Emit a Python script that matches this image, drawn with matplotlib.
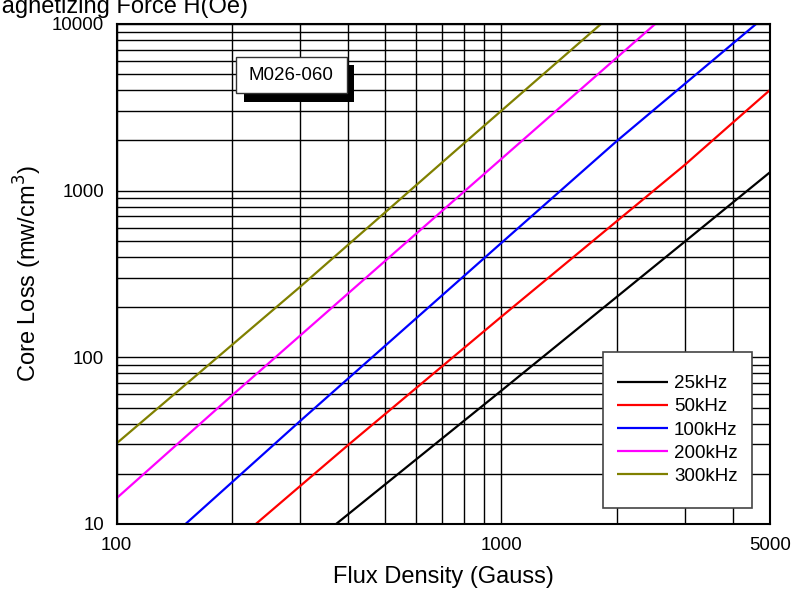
import matplotlib
matplotlib.use("Agg")
import matplotlib.pyplot as plt
from matplotlib.ticker import FixedLocator, NullFormatter, LogLocator
from matplotlib.patches import Rectangle

plt.rcParams['font.family'] = ['Liberation Sans', 'DejaVu Sans']

# Data (Flux density in Gauss, core loss in mW/cm^3)
b_25k = [372, 1000, 3000, 5000]
p_25k = [10, 63, 494, 1290]
b_50k = [230, 300, 400, 1000, 3000, 4000, 5000]
p_50k = [10, 16.9, 29.8, 175, 1426, 2558, 4018]
b_100k = [151, 200, 300, 1000, 2000, 4600]
p_100k = [10, 17.9, 41.5, 485, 1990, 10000]
b_200k = [100, 200, 800, 2514]
p_200k = [14.3, 59.4, 986, 10000]
b_300k = [100, 300, 800, 1817]
p_300k = [30.5, 265, 1923, 10000]

series = [
    ("25kHz", b_25k, p_25k, "#000000"),
    ("50kHz", b_50k, p_50k, "#ff0000"),
    ("100kHz", b_100k, p_100k, "#0000ff"),
    ("200kHz", b_200k, p_200k, "#ff00ff"),
    ("300kHz", b_300k, p_300k, "#808000"),
]

x_ticks = [100, 1000, 5000]
x_ticklabels = ["100", "1000", "5000"]
y_ticks = [10, 100, 1000, 10000]
y_ticklabels = ["10", "100", "1000", "10000"]

W, H = 803, 597
fig = plt.figure(figsize=(W / 100, H / 100), dpi=100)
L, R, T, B = 116.7, 770, 24, 524
ax = fig.add_axes([L / W, 1 - B / H, (R - L) / W, (B - T) / H])
ax.set_xscale('log')
ax.set_yscale('log')
ax.set_xlim(100, 5000)
ax.set_ylim(10, 10000)

handles = []
for name, bx, py, col in series:
    h, = ax.plot(bx, py, color=col, lw=1.6, label=name, zorder=3, solid_capstyle='butt')
    handles.append(h)

ax.xaxis.set_major_locator(FixedLocator(x_ticks))
ax.set_xticklabels(x_ticklabels)
ax.xaxis.set_minor_locator(LogLocator(base=10, subs=range(2, 10), numticks=20))
ax.xaxis.set_minor_formatter(NullFormatter())
ax.yaxis.set_major_locator(FixedLocator(y_ticks))
ax.set_yticklabels(y_ticklabels)
ax.yaxis.set_minor_locator(LogLocator(base=10, subs=range(2, 10), numticks=20))
ax.yaxis.set_minor_formatter(NullFormatter())

ax.grid(True, which='both', color='black', lw=1.0, zorder=1)
ax.set_axisbelow(True)
ax.tick_params(which='both', length=0, labelsize=13.4, pad=9)
for s in ax.spines.values():
    s.set_linewidth(1.5)
    s.set_zorder(5)

ax.set_xlabel("Flux Density (Gauss)", fontsize=17)
ax.xaxis.set_label_coords(0.5, (B - 566) / (B - T))
ax.set_ylabel("Core Loss (mw/cm$^3$)", fontsize=17)
ax.yaxis.set_label_coords((44 - L) / (R - L), 0.5)

fig.text(-18 / W, 1 - 12.7 / H, "Magnetizing Force H(Oe)", fontsize=17,
         ha='left', va='baseline')

# Material label box with shadow
bx0, bx1 = (236 - L) / (R - L), (346.7 - L) / (R - L)
by0, by1 = (B - 93.3) / (B - T), (B - 56.7) / (B - T)
dx, dy = 7.5 / (R - L), 8.4 / (B - T)
ax.add_patch(Rectangle((bx0 + dx, by0 - dy), bx1 - bx0, by1 - by0,
                       transform=ax.transAxes, facecolor='black',
                       edgecolor='black', lw=0, zorder=6))
ax.add_patch(Rectangle((bx0, by0), bx1 - bx0, by1 - by0,
                       transform=ax.transAxes, facecolor='white',
                       edgecolor='#333333', lw=1.0, zorder=7))
ax.text((bx0 + bx1) / 2, (by0 + by1) / 2, "M026-060", transform=ax.transAxes,
        ha='center', va='center', fontsize=13.5, zorder=8)

# Legend box
lx0, lx1 = (602.7 - L) / (R - L), (752.3 - L) / (R - L)
ly0, ly1 = (B - 508.3) / (B - T), (B - 351.7) / (B - T)
ax.add_patch(Rectangle((lx0, ly0), lx1 - lx0, ly1 - ly0, transform=ax.transAxes,
                       facecolor='white', edgecolor='#444444', lw=1.2, zorder=6))
leg = ax.legend(handles=handles, loc='center',
                bbox_to_anchor=(lx0, ly0, lx1 - lx0, ly1 - ly0),
                bbox_transform=ax.transAxes, frameon=False, fontsize=13.5,
                handlelength=2.72, handletextpad=0.3, labelspacing=0.32,
                borderpad=0.0)
leg.set_zorder(8)

fig.savefig("out.png", dpi=100)
